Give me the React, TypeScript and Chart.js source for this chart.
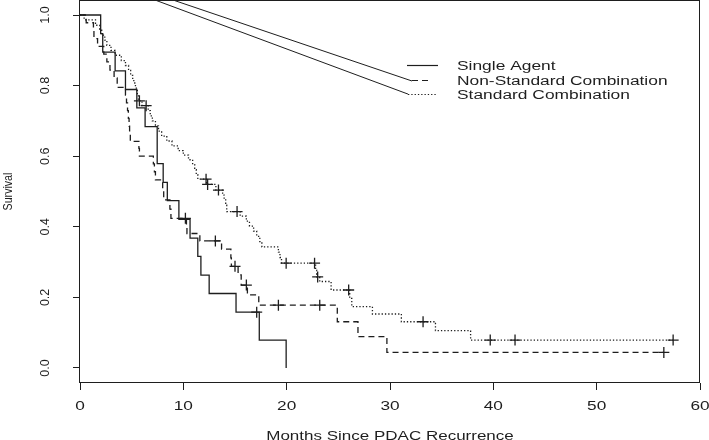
import React, { useEffect, useRef } from "react";
import { Chart, registerables } from "chart.js";

Chart.register(...registerables);

// ---- axes ----
const xTicks = [0, 10, 20, 30, 40, 50, 60];
const xTickLabels = ["0", "10", "20", "30", "40", "50", "60"];
const yTicks = [0, 0.2, 0.4, 0.6, 0.8, 1.0];
const yTickLabels = ["0.0", "0.2", "0.4", "0.6", "0.8", "1.0"];
const xTitle = "Months Since PDAC Recurrence";
const yTitle = "Survival";
const seriesNames = ["Single Agent", "Non-Standard Combination", "Standard Combination"];

// ---- Single Agent (solid) ----
const singleTimes = [0, 2.0, 2.2, 3.4, 4.4, 5.5, 6.3, 7.47, 8.05, 8.45, 9.57, 10.65, 11.4, 11.7, 12.5, 15.1, 17.35, 19.95];
const singleSurv = [1, 0.947, 0.895, 0.842, 0.789, 0.737, 0.684, 0.579, 0.526, 0.474, 0.421, 0.368, 0.316, 0.263, 0.211, 0.158, 0.079, 0];
const singleCensor = [17.1];

// ---- Non-Standard Combination (dashed) ----
const nonStdTimes = [0, 0.6, 1.3, 1.35, 1.7, 2.3, 2.6, 2.9, 3.3, 3.6, 4.4, 4.5, 4.6, 4.68, 4.75, 4.8, 4.87, 5.7, 5.75, 7.1, 7.2, 7.3, 8.0, 8.1, 8.7, 8.8, 10.3, 10.35, 11.6, 13.7, 14.6, 14.65, 15.3, 15.6, 16.2, 17.3, 24.9, 26.9, 29.7, 56.5];
const nonStdSurv = [1, 0.978, 0.956, 0.933, 0.911, 0.889, 0.867, 0.844, 0.822, 0.795, 0.773, 0.751, 0.729, 0.707, 0.685, 0.663, 0.642, 0.622, 0.6, 0.578, 0.556, 0.533, 0.505, 0.476, 0.45, 0.424, 0.403, 0.381, 0.36, 0.337, 0.312, 0.288, 0.264, 0.235, 0.207, 0.178, 0.131, 0.089, 0.044, 0.044];
const nonStdCensor = [10.2, 13.1, 15.0, 16.1, 19.2, 23.2, 56.5];

// ---- Standard Combination (dotted) ----
const stdTimes = [0, 0.4, 1.5, 1.9, 2.1, 2.4, 2.6, 3.0, 3.4, 4.0, 4.4, 4.7, 4.9, 5.1, 5.3, 5.45, 5.55, 5.65, 6.0, 6.6, 6.8, 7.0, 7.3, 7.6, 7.9, 8.4, 8.9, 9.5, 10.0, 10.5, 10.9, 11.1, 11.25, 11.4, 12.25, 13.15, 13.8, 13.95, 14.1, 14.2, 15.5, 16.1, 16.4, 16.8, 17.1, 17.4, 17.6, 19.2, 19.35, 19.5, 22.8, 22.9, 23.2, 24.3, 26.1, 26.3, 28.3, 31.1, 34.4, 37.8, 57.4];
const stdSurv = [1, 0.986, 0.971, 0.957, 0.943, 0.929, 0.914, 0.9, 0.886, 0.871, 0.857, 0.843, 0.829, 0.814, 0.8, 0.786, 0.771, 0.757, 0.743, 0.729, 0.714, 0.7, 0.686, 0.671, 0.657, 0.643, 0.629, 0.616, 0.603, 0.59, 0.576, 0.562, 0.548, 0.535, 0.52, 0.504, 0.49, 0.476, 0.461, 0.443, 0.43, 0.416, 0.402, 0.388, 0.373, 0.358, 0.343, 0.328, 0.313, 0.297, 0.277, 0.258, 0.245, 0.221, 0.197, 0.174, 0.153, 0.131, 0.106, 0.079, 0.079];
const stdCensor = [5.75, 6.4, 12.2, 12.35, 13.4, 15.2, 19.95, 22.7, 23.0, 26.0, 33.2, 39.7, 42.1, 57.4];

// ---- the two connector lines running down to the legend ----
const linkUpperX = [9.0, 32.13];
const linkUpperY = [1.0425, 0.813];
const linkLowerX = [7.26, 31.74];
const linkLowerY = [1.0425, 0.776];

const INK = "#1e1e1e";
const FONT = '"Liberation Sans", Arial, Helvetica, sans-serif';

function toPoints(xs: number[], ys: number[]) {
  return xs.map((x, i) => ({ x, y: ys[i] }));
}

function censorPoints(times: number[], survTimes: number[], surv: number[]) {
  return times.map((t) => {
    let v = surv[0];
    for (let i = 0; i < survTimes.length; i++) {
      if (survTimes[i] <= t) v = surv[i];
    }
    return { x: t, y: v };
  });
}

function drawH(ctx: CanvasRenderingContext2D, text: string, x: number, y: number, sx: number, align: CanvasTextAlign) {
  ctx.save();
  ctx.translate(x, y);
  ctx.scale(sx, 1);
  ctx.textAlign = align;
  ctx.textBaseline = "middle";
  ctx.fillText(text, 0, 0);
  ctx.restore();
}

function drawV(ctx: CanvasRenderingContext2D, text: string, x: number, y: number, s: number) {
  ctx.save();
  ctx.translate(x, y);
  ctx.rotate(-Math.PI / 2);
  ctx.scale(s, 1);
  ctx.textAlign = "center";
  ctx.textBaseline = "middle";
  ctx.fillText(text, 0, 0);
  ctx.restore();
}

const decorPlugin = {
  id: "decor",
  afterDraw(chart: any) {
    const ctx: CanvasRenderingContext2D = chart.ctx;
    const a = chart.chartArea;
    const xs = chart.scales.x;
    const ys = chart.scales.y;
    ctx.save();
    // frame
    ctx.strokeStyle = INK;
    ctx.lineWidth = 1;
    ctx.strokeRect(a.left - 0.5, a.top + 0.5, a.right - a.left, a.bottom - a.top - 1);

    ctx.fillStyle = INK;
    ctx.font = "12.5px " + FONT;
    xTicks.forEach((v, i) => drawH(ctx, xTickLabels[i], xs.getPixelForValue(v), a.bottom + 23.5, 1.38, "center"));
    drawH(ctx, xTitle, (a.left + a.right) / 2, a.bottom + 53.5, 1.36, "center");
    yTicks.forEach((v, i) => drawV(ctx, yTickLabels[i], a.left - 34, ys.getPixelForValue(v), 1));
    drawV(ctx, yTitle, a.left - 71, (a.top + a.bottom) / 2, 0.85);

    // legend
    const lx = a.left + 327;
    const rows = [65.5, 80.5, 94.5];
    const dashes = [[], [6, 4], [1.3, 2]];
    const starts = [lx, lx + 5, lx + 1];
    const ends = [lx + 31, lx + 24, lx + 29];
    ctx.lineWidth = 1.2;
    rows.forEach((ry, i) => {
      ctx.setLineDash(dashes[i]);
      ctx.beginPath();
      ctx.moveTo(starts[i], a.top + ry);
      ctx.lineTo(ends[i], a.top + ry);
      ctx.stroke();
    });
    ctx.setLineDash([]);
    rows.forEach((ry, i) => drawH(ctx, seriesNames[i], lx + 50, a.top + ry + 1.5, 1.39, "left"));
    ctx.restore();
  },
};

export default function App() {
  const ref = useRef<HTMLCanvasElement | null>(null);

  useEffect(() => {
    if (!ref.current) return;
    const curve = (xs: number[], ys: number[], dash: number[]) => ({
      data: toPoints(xs, ys),
      borderColor: INK,
      borderWidth: 1.3,
      borderDash: dash,
      stepped: true,
      pointRadius: 0,
      fill: false,
    });
    const censor = (pts: { x: number; y: number }[]) => ({
      data: pts,
      showLine: false,
      pointStyle: "cross",
      pointRadius: 5.5,
      pointBorderColor: INK,
      pointBorderWidth: 1.3,
      borderColor: INK,
    });
    const link = (xs: number[], ys: number[]) => ({
      data: toPoints(xs, ys),
      borderColor: INK,
      borderWidth: 1,
      pointRadius: 0,
      fill: false,
    });

    const chart = new Chart(ref.current, {
      type: "line",
      data: {
        datasets: [
          curve(singleTimes, singleSurv, []),
          curve(nonStdTimes, nonStdSurv, [6, 4]),
          curve(stdTimes, stdSurv, [1.3, 2]),
          censor(censorPoints(singleCensor, singleTimes, singleSurv)),
          censor(censorPoints(nonStdCensor, nonStdTimes, nonStdSurv)),
          censor(censorPoints(stdCensor, stdTimes, stdSurv)),
          link(linkUpperX, linkUpperY),
          link(linkLowerX, linkLowerY),
        ] as any,
      },
      options: {
        animation: false,
        responsive: false,
        events: [],
        layout: { autoPadding: false, padding: { left: 0, right: 9, top: 0, bottom: 0 } },
        plugins: { legend: { display: false }, tooltip: { enabled: false } },
        scales: {
          x: {
            type: "linear",
            min: 0,
            max: 60,
            afterBuildTicks: (s: any) => {
              s.ticks = xTicks.map((v) => ({ value: v }));
            },
            afterFit: (s: any) => {
              s.height = 57;
            },
            ticks: { display: false },
            grid: { drawOnChartArea: false, drawTicks: true, tickLength: 7, color: INK, lineWidth: 1 },
            border: { display: false },
          },
          y: {
            type: "linear",
            min: -0.0425,
            max: 1.0425,
            afterBuildTicks: (s: any) => {
              s.ticks = yTicks.map((v) => ({ value: v }));
            },
            afterFit: (s: any) => {
              s.width = 80;
            },
            ticks: { display: false },
            grid: { drawOnChartArea: false, drawTicks: true, tickLength: 7, color: INK, lineWidth: 1 },
            border: { display: false },
          },
        },
      } as any,
      plugins: [decorPlugin],
    });
    return () => chart.destroy();
  }, []);

  return (
    <div style={{ position: "fixed", left: 0, top: 0, width: 709, height: 440, background: "#fff" }}>
      <canvas ref={ref} width={709} height={440} />
    </div>
  );
}
